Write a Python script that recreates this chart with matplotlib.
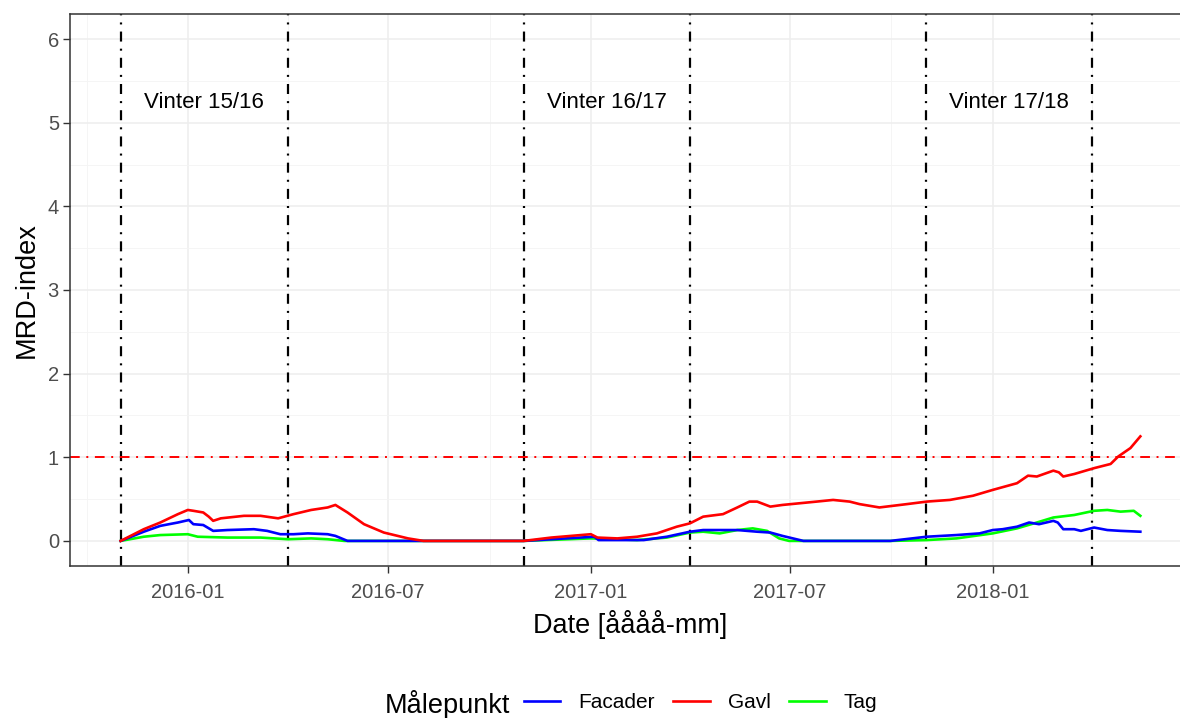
import matplotlib
matplotlib.use("Agg")
import matplotlib.pyplot as plt
import matplotlib.dates as mdates
import numpy as np
import pandas as pd
from matplotlib.lines import Line2D

plt.rcParams['font.family'] = ['Liberation Sans', 'DejaVu Sans']

# ---- data ----
gavl_dates = ["2015-11-01", "2015-11-22", "2015-12-07", "2015-12-23", "2016-01-01", "2016-01-06",
              "2016-01-15", "2016-01-20", "2016-01-24", "2016-01-31", "2016-02-21", "2016-03-07",
              "2016-03-23", "2016-04-06", "2016-04-22", "2016-05-07", "2016-05-14", "2016-05-25",
              "2016-06-09", "2016-06-27", "2016-07-19", "2016-08-02", "2016-11-01", "2016-11-26",
              "2016-12-14", "2017-01-01", "2017-01-07", "2017-01-25", "2017-02-12", "2017-03-02",
              "2017-03-20", "2017-04-01", "2017-04-13", "2017-05-01", "2017-05-14", "2017-05-25",
              "2017-06-01", "2017-06-13", "2017-06-24", "2017-07-25", "2017-08-09", "2017-08-24",
              "2017-09-02", "2017-09-20", "2017-10-15", "2017-11-02", "2017-11-23", "2017-12-14",
              "2018-01-01", "2018-01-23", "2018-02-02", "2018-02-10", "2018-02-25", "2018-03-02",
              "2018-03-06", "2018-03-16", "2018-04-03", "2018-04-18", "2018-04-25", "2018-05-06",
              "2018-05-15"]
gavl_values = [0.00, 0.14, 0.22, 0.32, 0.37, 0.36,
               0.34, 0.29, 0.24, 0.27, 0.30, 0.30,
               0.27, 0.32, 0.37, 0.40, 0.43, 0.34,
               0.20, 0.10, 0.03, 0.00, 0.00, 0.04,
               0.06, 0.08, 0.04, 0.03, 0.05, 0.09,
               0.17, 0.21, 0.29, 0.32, 0.40, 0.47,
               0.47, 0.41, 0.43, 0.47, 0.49, 0.47,
               0.44, 0.40, 0.44, 0.47, 0.49, 0.54,
               0.61, 0.69, 0.78, 0.77, 0.84, 0.82,
               0.77, 0.80, 0.87, 0.92, 1.01, 1.11,
               1.25]

facader_dates = ["2015-11-01", "2015-11-22", "2015-12-07", "2015-12-23", "2016-01-02", "2016-01-06",
                 "2016-01-15", "2016-01-24", "2016-02-06", "2016-03-01", "2016-03-13", "2016-03-25",
                 "2016-04-06", "2016-04-19", "2016-05-07", "2016-05-14", "2016-05-25", "2016-11-01",
                 "2017-01-04", "2017-01-08", "2017-02-18", "2017-03-11", "2017-04-01", "2017-04-13",
                 "2017-05-14", "2017-06-01", "2017-06-13", "2017-06-24", "2017-07-13", "2017-09-30",
                 "2017-11-02", "2017-11-29", "2017-12-20", "2018-01-01", "2018-01-10", "2018-01-23",
                 "2018-02-03", "2018-02-12", "2018-02-25", "2018-03-01", "2018-03-06", "2018-03-16",
                 "2018-03-22", "2018-04-03", "2018-04-15", "2018-04-27", "2018-05-15"]
facader_values = [0.00, 0.11, 0.18, 0.22, 0.25, 0.20,
                  0.19, 0.12, 0.13, 0.14, 0.12, 0.08,
                  0.08, 0.09, 0.08, 0.06, 0.00, 0.00,
                  0.05, 0.01, 0.01, 0.05, 0.11, 0.13,
                  0.13, 0.11, 0.10, 0.06, 0.00, 0.00,
                  0.05, 0.07, 0.09, 0.13, 0.14, 0.17,
                  0.22, 0.20, 0.24, 0.22, 0.14, 0.14,
                  0.12, 0.16, 0.13, 0.12, 0.11]

tag_dates = ["2015-11-01", "2015-11-22", "2015-12-07", "2016-01-01", "2016-01-10", "2016-02-06",
             "2016-03-07", "2016-04-01", "2016-04-22", "2016-05-07", "2016-05-22", "2016-11-01",
             "2017-01-01", "2017-02-12", "2017-03-11", "2017-04-01", "2017-04-13", "2017-04-28",
             "2017-05-14", "2017-05-28", "2017-06-10", "2017-06-21", "2017-06-30", "2017-09-30",
             "2017-11-02", "2017-11-29", "2018-01-01", "2018-01-23", "2018-02-10", "2018-02-25",
             "2018-03-16", "2018-04-03", "2018-04-15", "2018-04-27", "2018-05-09", "2018-05-15"]
tag_values = [0.00, 0.05, 0.07, 0.08, 0.05, 0.04,
              0.04, 0.02, 0.03, 0.02, 0.00, 0.00,
              0.03, 0.01, 0.04, 0.10, 0.11, 0.09,
              0.13, 0.15, 0.12, 0.03, 0.00, 0.00,
              0.01, 0.03, 0.09, 0.15, 0.22, 0.28,
              0.31, 0.36, 0.37, 0.35, 0.36, 0.30]

winter_lines = ["2015-11-01", "2016-04-01", "2016-11-01", "2017-04-01", "2017-11-01", "2018-04-01"]
winter_labels = ["Vinter 15/16", "Vinter 16/17", "Vinter 17/18"]
threshold = 1.0
series_names = ["Facader", "Gavl", "Tag"]
series_colors = ["#0000ff", "#ff0000", "#00ff00"]
x_limits = ["2015-09-16", "2018-06-30"]
y_ticks = [0, 1, 2, 3, 4, 5, 6]
x_ticks = ["2016-01-01", "2016-07-01", "2017-01-01", "2017-07-01", "2018-01-01"]

# ---- figure ----
W, H = 1180, 718
fig = plt.figure(figsize=(W / 100, H / 100), dpi=100)
left, right, top, bottom = 70, 1191, 14, 566
ax = fig.add_axes([left / W, 1 - bottom / H, (right - left) / W, (bottom - top) / H])

ax.set_xlim(pd.to_datetime(x_limits[0]), pd.to_datetime(x_limits[1]))
ax.set_ylim(-0.3, 6.3)

# grid (theme_bw)
ax.set_axisbelow(True)
ax.set_yticks(y_ticks)
ax.set_yticks([0.5 + i for i in range(6)], minor=True)
xt = pd.to_datetime(x_ticks)
ax.set_xticks(xt)
ax.set_xticks(pd.to_datetime(["2015-10-01", "2016-04-01", "2016-10-01", "2017-04-01",
                              "2017-10-01", "2018-04-01"]), minor=True)
ax.xaxis.set_major_formatter(mdates.DateFormatter("%Y-%m"))
ax.grid(which='major', color='#eeeeee', linewidth=1.1)
ax.grid(which='minor', color='#f4f4f4', linewidth=0.6)
ax.tick_params(which='minor', length=0)
ax.tick_params(which='major', length=5, width=1, color='#333333', labelcolor='#4d4d4d',
               labelsize=14.5, pad=3)
ax.tick_params(axis='x', which='major', pad=7)

for s in ax.spines.values():
    s.set_color('#333333')
    s.set_linewidth(1.1)

# winter lines
wl = pd.to_datetime(winter_lines)
for d in wl:
    ax.axvline(d, color='black', linestyle=(0, (4.5, 3.2, 0.9, 3.2)), linewidth=1.6, zorder=2)
ax.axhline(threshold, color='#ff0000', linestyle=(0, (5.0, 3.4, 1.0, 3.4)), linewidth=1.4, zorder=2)

# winter labels
for i, lab in enumerate(winter_labels):
    a, b = wl[2 * i], wl[2 * i + 1]
    mid = a + (b - a) / 2
    ax.text(mid, 5.24, lab, ha='center', va='center', fontsize=16, color='black')

# series
series = {
    "Facader": (facader_dates, facader_values),
    "Gavl": (gavl_dates, gavl_values),
    "Tag": (tag_dates, tag_values),
}
order = ["Tag", "Facader", "Gavl"]
zmap = {"Tag": 3, "Facader": 4, "Gavl": 5}
for name in order:
    d, v = series[name]
    c = series_colors[series_names.index(name)]
    ax.plot(pd.to_datetime(d), v, color=c, linewidth=1.9, zorder=zmap[name])

ax.set_xlabel("Date [åååå-mm]", fontsize=19.5, labelpad=6)
ax.set_ylabel("MRD-index", fontsize=19.5, labelpad=6)

# legend
handles = [Line2D([0], [0], color=c, linewidth=1.9) for c in series_colors]
fig.text(385 / W, 1 - 713 / H, "Målepunkt", fontsize=19.5, ha='left', va='baseline')
leg = fig.legend(handles, series_names, loc='center left', bbox_to_anchor=(524 / W, 1 - 703 / H),
                 ncol=3, frameon=False, fontsize=15, handlelength=1.75, columnspacing=0.9,
                 handletextpad=0.85, borderaxespad=0, borderpad=0)

fig.savefig("out.png", dpi=100)
